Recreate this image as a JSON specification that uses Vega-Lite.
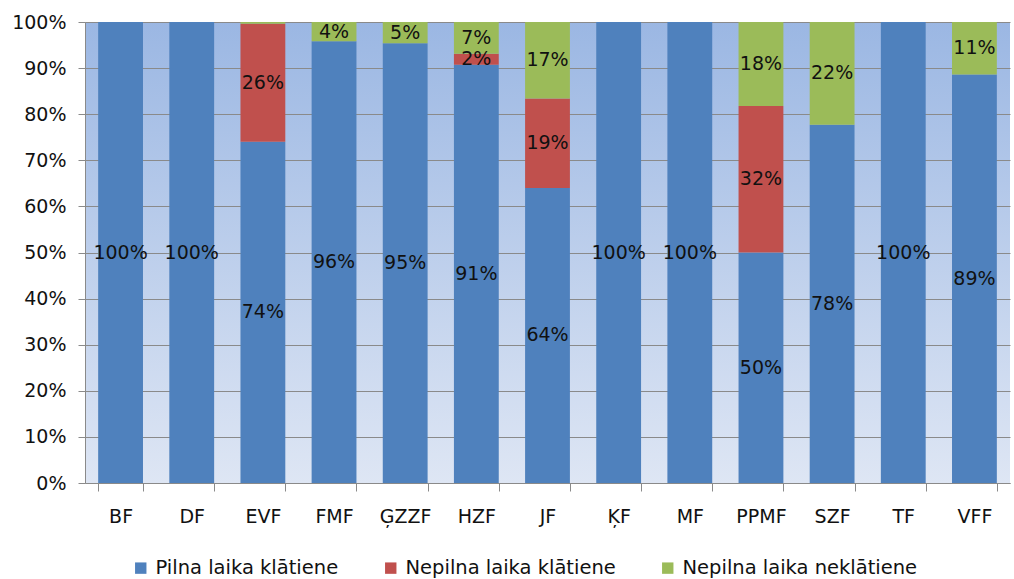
{
  "$schema": "https://vega.github.io/schema/vega-lite/v6.json",
  "autosize": {"type": "none"},
  "width": 925,
  "height": 461,
  "padding": {"left": 85, "top": 22, "right": 4, "bottom": 96},
  "background": "white",
  "config": {
    "font": "DejaVu Sans",
    "view": {
      "stroke": null,
      "fill": {"gradient": "linear", "x1": 0, "y1": 0, "x2": 0, "y2": 1,
        "stops": [{"offset": 0, "color": "#9bb7e3"}, {"offset": 1, "color": "#dee6f4"}]}
    },
    "axis": {"labelFont": "DejaVu Sans", "labelFontSize": 19, "labelColor": "#111111", "domainColor": "#8a8a8a", "tickColor": "#8a8a8a", "gridColor": "#8a8a8a", "gridOpacity": 1, "title": null}
  },
  "data": {"values": [
    {"f": "BF", "s": "Pilna laika klātiene", "k": 1, "v": 1.0},
    {"f": "BF", "s": "Nepilna laika klātiene", "k": 2, "v": 0},
    {"f": "BF", "s": "Nepilna laika neklātiene", "k": 3, "v": 0},
    {"f": "DF", "s": "Pilna laika klātiene", "k": 1, "v": 1.0},
    {"f": "DF", "s": "Nepilna laika klātiene", "k": 2, "v": 0},
    {"f": "DF", "s": "Nepilna laika neklātiene", "k": 3, "v": 0},
    {"f": "EVF", "s": "Pilna laika klātiene", "k": 1, "v": 0.74},
    {"f": "EVF", "s": "Nepilna laika klātiene", "k": 2, "v": 0.256},
    {"f": "EVF", "s": "Nepilna laika neklātiene", "k": 3, "v": 0.004},
    {"f": "FMF", "s": "Pilna laika klātiene", "k": 1, "v": 0.958},
    {"f": "FMF", "s": "Nepilna laika klātiene", "k": 2, "v": 0},
    {"f": "FMF", "s": "Nepilna laika neklātiene", "k": 3, "v": 0.042},
    {"f": "ĢZZF", "s": "Pilna laika klātiene", "k": 1, "v": 0.954},
    {"f": "ĢZZF", "s": "Nepilna laika klātiene", "k": 2, "v": 0},
    {"f": "ĢZZF", "s": "Nepilna laika neklātiene", "k": 3, "v": 0.046},
    {"f": "HZF", "s": "Pilna laika klātiene", "k": 1, "v": 0.907},
    {"f": "HZF", "s": "Nepilna laika klātiene", "k": 2, "v": 0.024},
    {"f": "HZF", "s": "Nepilna laika neklātiene", "k": 3, "v": 0.069},
    {"f": "JF", "s": "Pilna laika klātiene", "k": 1, "v": 0.64},
    {"f": "JF", "s": "Nepilna laika klātiene", "k": 2, "v": 0.194},
    {"f": "JF", "s": "Nepilna laika neklātiene", "k": 3, "v": 0.166},
    {"f": "ĶF", "s": "Pilna laika klātiene", "k": 1, "v": 1.0},
    {"f": "ĶF", "s": "Nepilna laika klātiene", "k": 2, "v": 0},
    {"f": "ĶF", "s": "Nepilna laika neklātiene", "k": 3, "v": 0},
    {"f": "MF", "s": "Pilna laika klātiene", "k": 1, "v": 1.0},
    {"f": "MF", "s": "Nepilna laika klātiene", "k": 2, "v": 0},
    {"f": "MF", "s": "Nepilna laika neklātiene", "k": 3, "v": 0},
    {"f": "PPMF", "s": "Pilna laika klātiene", "k": 1, "v": 0.5},
    {"f": "PPMF", "s": "Nepilna laika klātiene", "k": 2, "v": 0.318},
    {"f": "PPMF", "s": "Nepilna laika neklātiene", "k": 3, "v": 0.182},
    {"f": "SZF", "s": "Pilna laika klātiene", "k": 1, "v": 0.777},
    {"f": "SZF", "s": "Nepilna laika klātiene", "k": 2, "v": 0},
    {"f": "SZF", "s": "Nepilna laika neklātiene", "k": 3, "v": 0.223},
    {"f": "TF", "s": "Pilna laika klātiene", "k": 1, "v": 1.0},
    {"f": "TF", "s": "Nepilna laika klātiene", "k": 2, "v": 0},
    {"f": "TF", "s": "Nepilna laika neklātiene", "k": 3, "v": 0},
    {"f": "VFF", "s": "Pilna laika klātiene", "k": 1, "v": 0.886},
    {"f": "VFF", "s": "Nepilna laika klātiene", "k": 2, "v": 0},
    {"f": "VFF", "s": "Nepilna laika neklātiene", "k": 3, "v": 0.114}
  ]},
  "transform": [
    {"stack": "v", "groupby": ["f"], "sort": [{"field": "k", "order": "ascending"}], "as": ["v0", "v1"]}
  ],
  "encoding": {
    "x": {"field": "f", "type": "nominal", "sort": null,
      "scale": {"paddingInner": 0.37, "paddingOuter": 0.185},
      "axis": {"labelAngle": 0, "tickBand": "extent", "tickSize": 8, "labelPadding": 16, "grid": false}}
  },
  "layer": [
    {"mark": {"type": "bar"},
      "encoding": {
        "y": {"field": "v0", "type": "quantitative",
          "scale": {"domain": [0, 1], "nice": false},
          "axis": {"format": ".0%", "values": [0, 0.1, 0.2, 0.3, 0.4, 0.5, 0.6, 0.7, 0.8, 0.9, 1.0], "tickSize": 7, "labelPadding": 12, "labelOverlap": false, "grid": true}},
        "y2": {"field": "v1"},
        "color": {"field": "s", "type": "nominal",
          "scale": {"domain": ["Pilna laika klātiene", "Nepilna laika klātiene", "Nepilna laika neklātiene"], "range": ["#4f81bd", "#c0504d", "#9bbb59"]},
          "legend": {"title": null, "orient": "none", "legendX": 46, "legendY": 536, "direction": "horizontal", "symbolType": "square", "symbolSize": 130, "symbolStrokeWidth": 0, "labelFontSize": 19.5, "labelFont": "DejaVu Sans", "labelColor": "#111111", "columnPadding": 42, "labelLimit": 400, "labelOffset": 5}
        }
      }
    },
    {"transform": [{"filter": "datum.v >= 0.01"}, {"calculate": "(datum.v0 + datum.v1) / 2", "as": "mid"}],
      "mark": {"type": "text", "fontSize": 19, "color": "#111111", "font": "DejaVu Sans", "baseline": "middle"},
      "encoding": {
        "y": {"field": "mid", "type": "quantitative"},
        "text": {"field": "v", "type": "quantitative", "format": ".0%"}}
    }
  ]
}
